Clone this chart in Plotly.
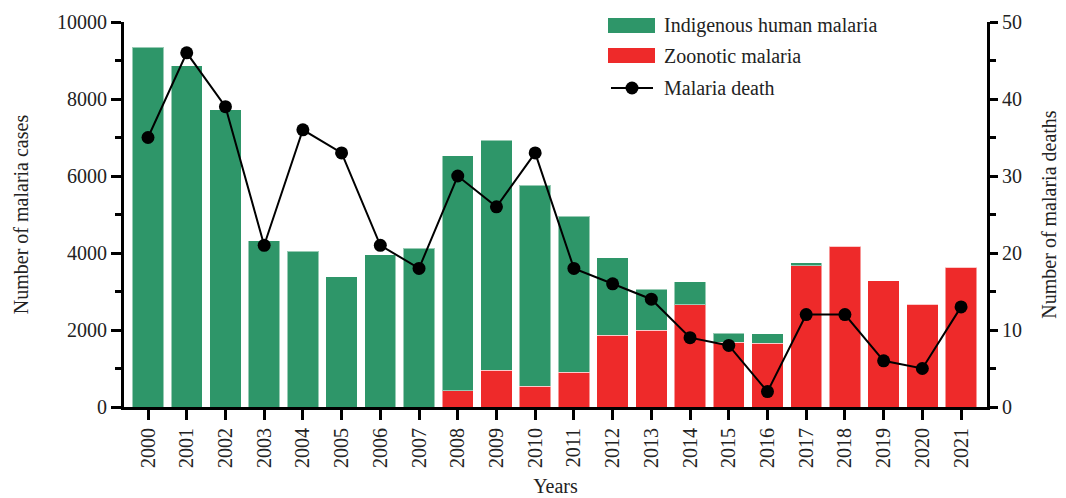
import plotly.graph_objects as go

years = [str(y) for y in range(2000, 2022)]
indigenous = [9350, 8870, 7720, 4320, 4040, 3380, 3960, 4120, 6100, 5980, 5220, 4060,
              2020, 1070, 600, 240, 250, 75, 0, 0, 0, 0]
zoonotic = [0, 0, 0, 0, 0, 0, 0, 0, 420, 950, 540, 900,
            1860, 1990, 2650, 1680, 1650, 3670, 4180, 3280, 2670, 3630]
deaths = [35, 46, 39, 21, 36, 33, 21, 18, 30, 26, 33, 18,
          16, 14, 9, 8, 2, 12, 12, 6, 5, 13]
legend_labels = ["Indigenous human malaria", "Zoonotic malaria", "Malaria death"]

GREEN = "#2e9669"
RED = "#ee2a2a"
FONT = "Liberation Serif"
TXT = "#222"

# page offset of the figure (body margin)
OFF = 8
# plot area in screen pixels
L, R, T, B = 124, 987, 22, 407
W, H = R - L, B - T
def px(x):
    return (x - L) / W
def py(y):
    return (B - y) / H

fig = go.Figure()
fig.add_trace(go.Bar(x=years, y=zoonotic, name=legend_labels[1], marker_color=RED,
                     marker_line=dict(color="rgba(255,255,255,0.5)", width=1), showlegend=False))
fig.add_trace(go.Bar(x=years, y=indigenous, name=legend_labels[0], marker_color=GREEN,
                     marker_line=dict(color="rgba(255,255,255,0.5)", width=1), showlegend=False))
fig.add_trace(go.Scatter(x=years, y=deaths, name=legend_labels[2], yaxis="y2", mode="lines+markers",
                         line=dict(color="black", width=2), marker=dict(color="black", size=13),
                         showlegend=False))

shapes = [
    dict(type="rect", xref="paper", yref="paper", x0=px(608), x1=px(655), y0=py(33), y1=py(18),
         fillcolor=GREEN, line=dict(width=0)),
    dict(type="rect", xref="paper", yref="paper", x0=px(608), x1=px(655), y0=py(63), y1=py(48),
         fillcolor=RED, line=dict(width=0)),
    dict(type="line", xref="paper", yref="paper", x0=px(611), x1=px(653), y0=py(88), y1=py(88),
         line=dict(color="black", width=2)),
    dict(type="circle", xref="paper", yref="paper", xsizemode="pixel", ysizemode="pixel",
         xanchor=px(632), yanchor=py(88), x0=-6.5, x1=6.5, y0=-6.5, y1=6.5,
         fillcolor="black", line=dict(width=0)),
]
annotations = [
    dict(text=legend_labels[i], xref="paper", yref="paper", x=px(662), y=py(yy), xanchor="left",
         yanchor="middle", showarrow=False, font=dict(family=FONT, size=20, color=TXT))
    for i, yy in enumerate([25, 56, 88])
]

fig.update_layout(
    width=1066, height=498,
    barmode="stack", bargap=0.19,
    plot_bgcolor="white", paper_bgcolor="white",
    font=dict(family=FONT, size=20, color=TXT),
    margin=dict(l=L - OFF, r=1066 - R + OFF, t=T - OFF, b=498 - B + OFF),
    showlegend=False,
    shapes=shapes, annotations=annotations,
    xaxis=dict(type="category", range=[-0.62, 21.67], showline=True, linecolor="black", linewidth=3,
               ticks="outside", ticklen=10, tickwidth=3, tickcolor="black", tickangle=-90,
               title=dict(text="Years", font=dict(size=20), standoff=12), showgrid=False,
               tickfont=dict(size=20), automargin=False),
    yaxis=dict(range=[0, 10000], showline=True, linecolor="black", linewidth=3, showgrid=False,
               ticks="outside", ticklen=10, tickwidth=3, tickcolor="black", dtick=2000,
               tickformat="d", tickfont=dict(size=20), zeroline=False, automargin=False,
               minor=dict(dtick=1000, ticks="outside", ticklen=6, tickwidth=3, tickcolor="black"),
               title=dict(text="Number of malaria cases", font=dict(size=20), standoff=24)),
    yaxis2=dict(range=[0, 50], overlaying="y", side="right", anchor="x", showline=True,
                linecolor="black", linewidth=3, showgrid=False, ticks="outside", ticklen=8,
                tickwidth=3, tickcolor="black", dtick=10, tickfont=dict(size=20), zeroline=False,
                automargin=False,
                minor=dict(dtick=5, ticks="outside", ticklen=6, tickwidth=3, tickcolor="black"),
                title=dict(text="Number of malaria deaths", font=dict(size=20), standoff=21)),
)

fig.write_html("out.html")
